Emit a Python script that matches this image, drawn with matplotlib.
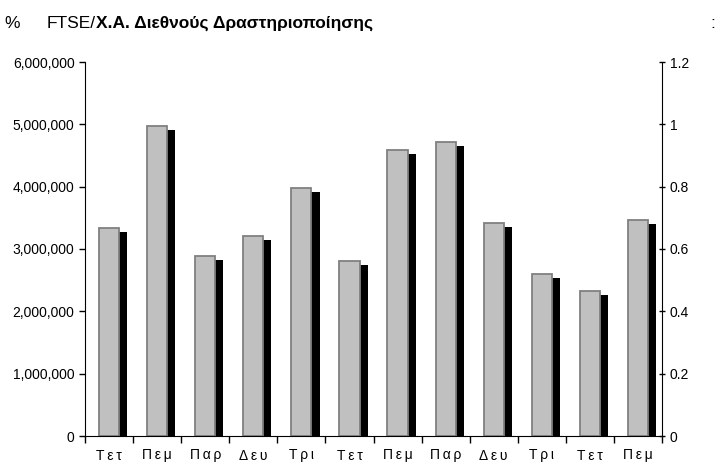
import matplotlib
matplotlib.use("Agg")
import matplotlib.pyplot as plt
import matplotlib.patheffects as pe
from matplotlib.ticker import FuncFormatter, MultipleLocator
import numpy as np

# Δεδομένα
days = ["Τετ", "Πεμ", "Παρ", "Δευ", "Τρι", "Τετ", "Πεμ", "Παρ", "Δευ", "Τρι", "Τετ", "Πεμ"]
volume = [3340000, 4970000, 2890000, 3210000, 3980000, 2800000,
          4590000, 4720000, 3410000, 2600000, 2320000, 3470000]
title_prefix = "%"
title_normal = "FTSE/"
title_bold = "Χ.Α. Διεθνούς Δραστηριοποίησης"

plt.rcParams['font.family'] = ['Liberation Sans', 'DejaVu Sans']

fig = plt.figure(figsize=(7.24, 4.66), dpi=100)
ax = fig.add_axes([85 / 724, 30 / 466, 577 / 724, 374 / 466])

x = np.arange(len(days))
bars = ax.bar(x, volume, width=0.42, color="#c0c0c0", edgecolor="#808080", linewidth=1.3)
for b in bars:
    b.set_path_effects([pe.SimplePatchShadow(offset=(5.8, -2.9), shadow_rgbFace="black", alpha=1.0),
                        pe.Normal()])

ax.set_xlim(-0.5, len(days) - 0.5)
ax.set_ylim(0, 6000000)
ax.yaxis.set_major_locator(MultipleLocator(1000000))
ax.yaxis.set_major_formatter(FuncFormatter(lambda v, p: f"{int(v):,}"))
ax.set_xticks(x)
ax.set_xticklabels(["\u2009".join(d) for d in days])
ax.set_xticks(np.arange(-0.5, len(days), 1), minor=True)
ax.tick_params(axis="x", which="major", length=0, pad=9, labelsize=10)
ax.tick_params(axis="x", which="minor", length=5, width=1, direction="out")
ax.tick_params(axis="y", length=4, width=1, direction="out", labelsize=10)
ax.spines["top"].set_visible(False)
ax.spines["right"].set_visible(False)

ax2 = ax.twinx()
ax2.set_ylim(0, 1.2)
ax2.set_yticks([0, 0.2, 0.4, 0.6, 0.8, 1.0, 1.2])
ax2.set_yticklabels(["0", "0.2", "0.4", "0.6", "0.8", "1", "1.2"])
ax2.tick_params(axis="y", length=4, width=1, direction="inout", labelsize=10)
for s in ["top", "left", "bottom"]:
    ax2.spines[s].set_visible(False)

ty = 1 - 23 / 466
fig.text(4 / 724, ty, title_prefix, fontsize=12.5, va="center")
t1 = fig.text(47 / 724, ty, title_normal, fontsize=12.5, va="center")
ax.annotate(title_bold, xy=(1, 0.5), xycoords=t1, va="center", ha="left",
            fontsize=12.5, fontweight="bold", annotation_clip=False)
fig.text(710 / 724, ty, ":", fontsize=12.5, va="center")

fig.savefig("out.png", dpi=100)
